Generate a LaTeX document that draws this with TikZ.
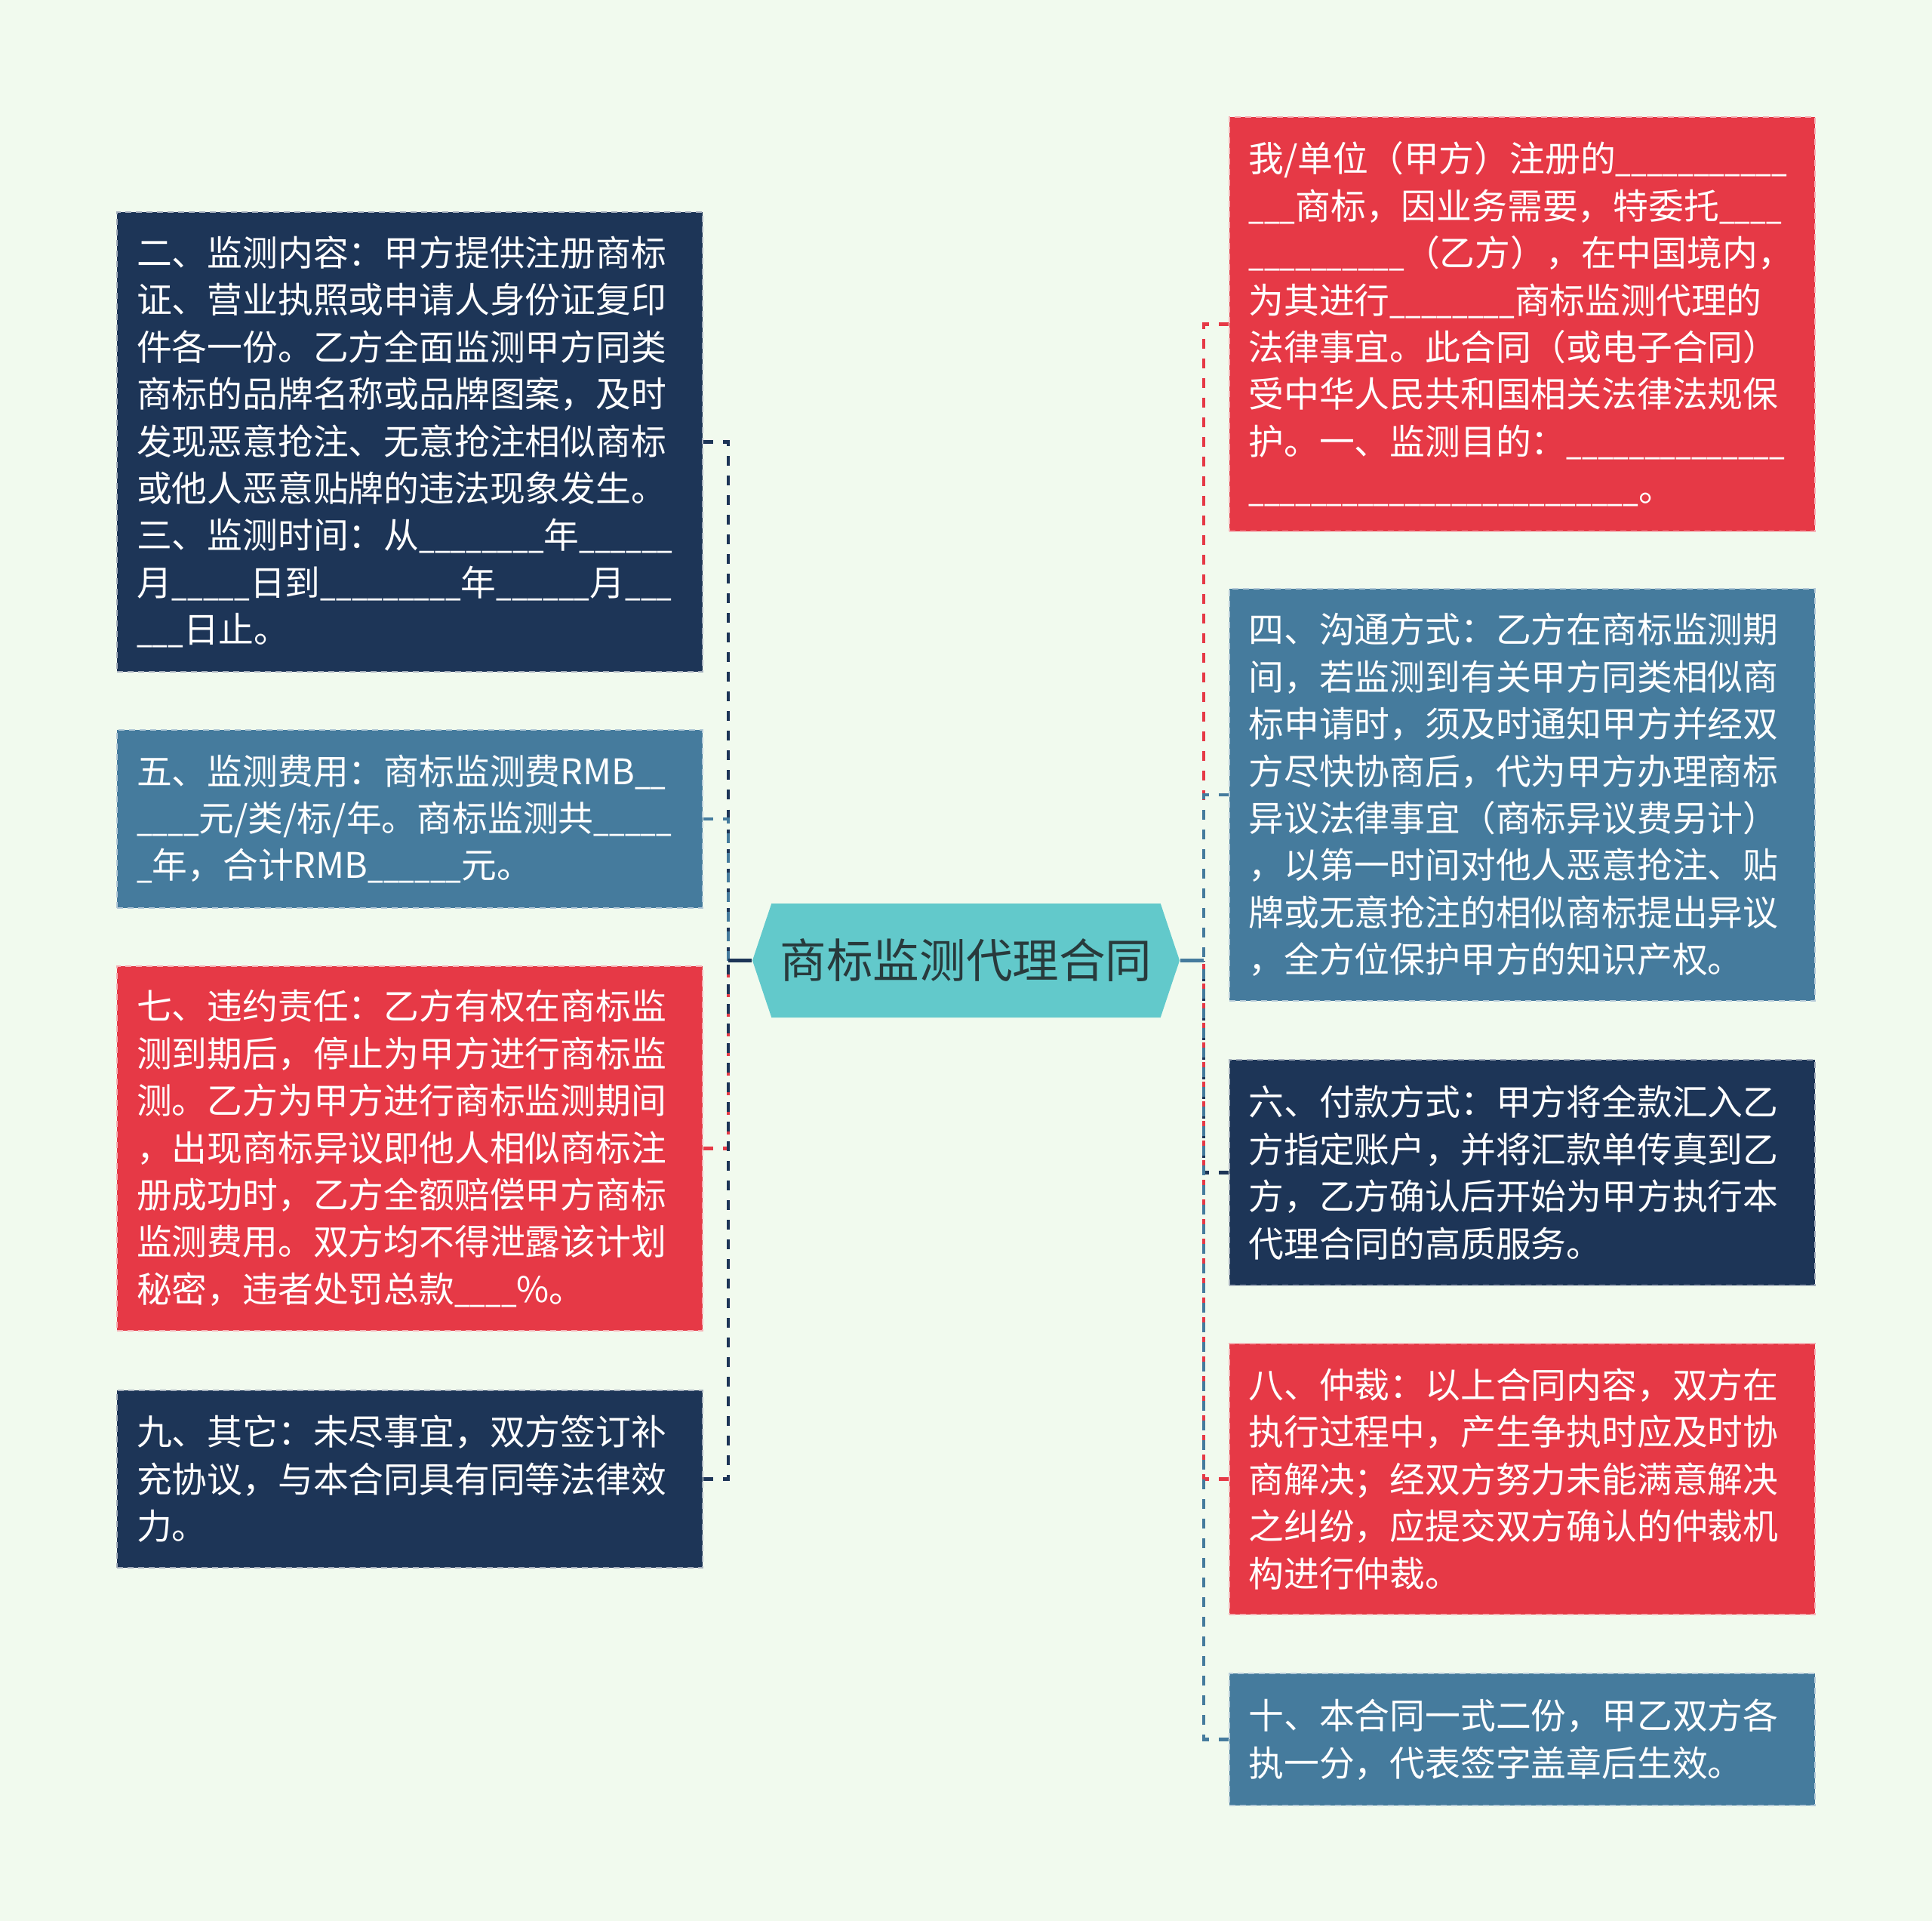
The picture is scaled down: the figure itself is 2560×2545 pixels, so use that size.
\documentclass[tikz,border=0pt]{standalone}
\usepackage{fontspec}
\setmainfont{Noto Sans CJK SC}
\newfontfamily\lowfont[FakeStretch=0.79]{Noto Sans CJK SC}
\newcommand\gap[1]{{\lowfont\foreach\k in {1,...,#1}{\_}}}
\usetikzlibrary{shapes.symbols}

\definecolor{cnavy}{HTML}{1D3557}
\definecolor{csteel}{HTML}{457B9D}
\definecolor{cred}{HTML}{E63946}
\definecolor{hubteal}{HTML}{62C9CB}
\definecolor{hubink}{HTML}{283A3C}
\definecolor{paper}{HTML}{F1FAEE}

\begin{document}
\begin{tikzpicture}[x=0.25pt,y=-0.25pt]
    \tikzstyle{leaf}=[rectangle,minimum width=194pt,text width=181pt,inner xsep=6.5pt,inner ysep=0pt,align=left,text=white,font=\fontsize{11.7pt}{15.6pt}\selectfont,line width=0.5pt,dash pattern=on 2pt off 1.5pt]
    \tikzstyle{hub}=[signal,signal to=east and west,signal pointer angle=143,fill=hubteal,text=hubink,minimum width=141.5pt,minimum height=37.75pt,inner sep=0pt,font=\fontsize{15.4pt}{18pt}\selectfont]
    \tikzstyle{link}=[line width=1.2pt,dash pattern=on 3.25pt off 3.25pt]
    \tikzstyle{spoke}=[line width=1.2pt]

    \fill[paper] (0,0) rectangle (2560,2545);
    \useasboundingbox (0,0) rectangle (2560,2545);

    % centre
    \node[hub] (ctr) at (1280,1272.5) {商标监测代理合同};
    \coordinate (lsp) at (965,1272.5);
    \coordinate (rsp) at (1595,1272.5);

    % left column
    \node[leaf,fill=cnavy,draw=cnavy!40!white,minimum height=152.25pt] (A) at (543,585.5) {二、监测内容：甲方提供注册商标\\证、营业执照或申请人身份证复印\\件各一份。乙方全面监测甲方同类\\商标的品牌名称或品牌图案，及时\\发现恶意抢注、无意抢注相似商标\\或他人恶意贴牌的违法现象发生。\\三、监测时间：从\gap{8}年\gap{6}\\月\gap{5}日到\gap{9}年\gap{6}月\gap{3}\\\gap{3}日止。};
    \node[leaf,fill=csteel,draw=csteel!40!white,minimum height=59pt] (B) at (543,1085) {五、监测费用：商标监测费RMB\gap{2}\\\gap{4}元/类/标/年。商标监测共\gap{5}\\\gap{1}年，合计RMB\gap{6}元。};
    \node[leaf,fill=cred,draw=cred!40!white,minimum height=120.75pt] (C) at (543,1521.5) {七、违约责任：乙方有权在商标监\\测到期后，停止为甲方进行商标监\\测。乙方为甲方进行商标监测期间\\，出现商标异议即他人相似商标注\\册成功时，乙方全额赔偿甲方商标\\监测费用。双方均不得泄露该计划\\秘密，违者处罚总款\gap{4}\%。};
    \node[leaf,fill=cnavy,draw=cnavy!40!white,minimum height=58.75pt] (D) at (543,1959.5) {九、其它：未尽事宜，双方签订补\\充协议，与本合同具有同等法律效\\力。};

    % right column
    \node[leaf,fill=cred,draw=cred!40!white,minimum height=137.25pt] (E) at (2016.5,429.5) {我/单位（甲方）注册的\gap{11}\\\gap{3}商标，因业务需要，特委托\gap{4}\\\gap{10}（乙方），在中国境内，\\为其进行\gap{8}商标监测代理的\\法律事宜。此合同（或电子合同）\\受中华人民共和国相关法律法规保\\护。一、监测目的：\gap{14}\\\gap{25}。};
    \node[leaf,fill=csteel,draw=csteel!40!white,minimum height=136.5pt] (F) at (2016.5,1053) {四、沟通方式：乙方在商标监测期\\间，若监测到有关甲方同类相似商\\标申请时，须及时通知甲方并经双\\方尽快协商后，代为甲方办理商标\\异议法律事宜（商标异议费另计）\\，以第一时间对他人恶意抢注、贴\\牌或无意抢注的相似商标提出异议\\，全方位保护甲方的知识产权。};
    \node[leaf,fill=cnavy,draw=cnavy!40!white,minimum height=74.75pt] (G) at (2016.5,1553.5) {六、付款方式：甲方将全款汇入乙\\方指定账户，并将汇款单传真到乙\\方，乙方确认后开始为甲方执行本\\代理合同的高质服务。};
    \node[leaf,fill=cred,draw=cred!40!white,minimum height=89.75pt] (H) at (2016.5,1959.5) {八、仲裁：以上合同内容，双方在\\执行过程中，产生争执时应及时协\\商解决；经双方努力未能满意解决\\之纠纷，应提交双方确认的仲裁机\\构进行仲裁。};
    \node[leaf,fill=csteel,draw=csteel!40!white,minimum height=43.75pt] (I) at (2016.5,2304.5) {十、本合同一式二份，甲乙双方各\\执一分，代表签字盖章后生效。};

    % connectors
    \foreach \n/\col in {A/cnavy,B/csteel,C/cred,D/cnavy}
        \draw[link,color=\col] (\n.east) -| (lsp);
    \foreach \n/\col in {E/cred,F/csteel,G/cnavy,H/cred,I/csteel}
        \draw[link,color=\col] (\n.west) -| (rsp);
    \draw[spoke,cnavy] (ctr.west) -- (lsp);
    \draw[spoke,csteel] (ctr.east) -- (rsp);
\end{tikzpicture}
\end{document}
